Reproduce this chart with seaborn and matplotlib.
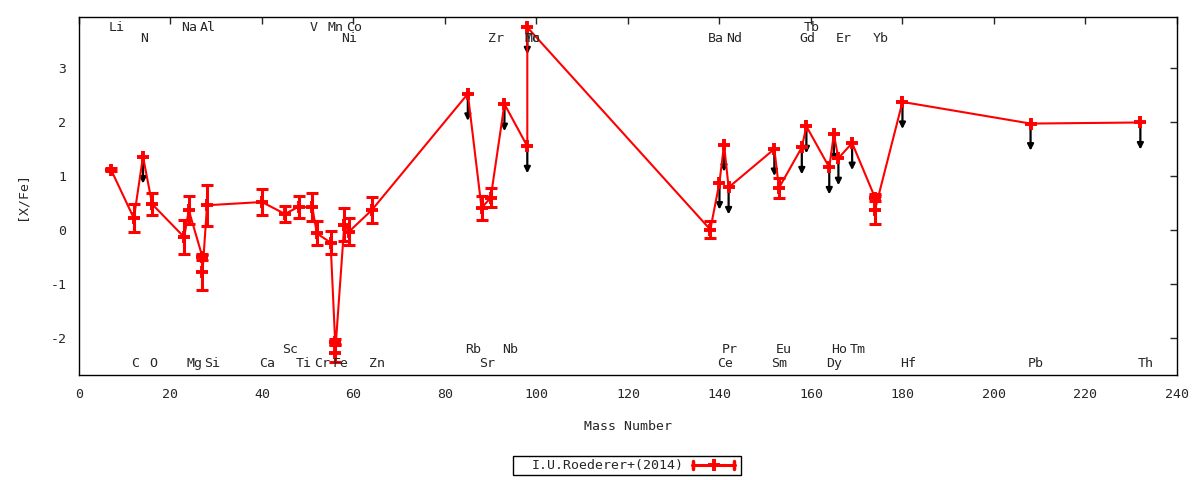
import numpy as np
import pandas as pd
import matplotlib
matplotlib.use("Agg")
import matplotlib.pyplot as plt
import seaborn as sns
from matplotlib.lines import Line2D
from matplotlib.patches import Rectangle

# abundance data (mass number of main isotope)
elements = ["Li", "C", "N", "O", "Na", "Mg", "Al", "Al", "Si", "Ca", "Sc", "Ti", "V",
            "Cr", "Mn", "Fe", "Fe", "Ni", "Co", "Zn", "Rb", "Sr", "Zr", "Nb", "Mo",
            "Tc", "Ba", "Ce", "Pr", "Nd", "Sm", "Eu", "Gd", "Tb", "Dy", "Ho", "Er",
            "Tm", "Yb", "Yb", "Hf", "Pb", "Th"]
mass = [7, 12, 14, 16, 23, 24, 27, 27, 28, 40, 45, 48, 51,
        52, 55, 56, 56, 58, 59, 64, 85, 88, 90, 93, 98,
        98, 138, 140, 141, 142, 152, 153, 158, 159, 164, 165, 166,
        169, 174, 174, 180, 208, 232]
x_fe = [1.12, 0.22, 1.36, 0.48, -0.13, 0.37, -0.50, -0.78, 0.46, 0.52, 0.30, 0.43, 0.42,
        -0.06, -0.23, -2.07, -2.27, 0.10, -0.03, 0.37, 2.52, 0.41, 0.60, 2.33, 1.55,
        3.75, 0.01, 0.88, 1.58, 0.79, 1.50, 0.78, 1.53, 1.92, 1.16, 1.77, 1.33,
        1.61, 0.60, 0.38, 2.37, 1.97, 1.99]
x_fe_err = [0.02, 0.26, 0.0, 0.20, 0.32, 0.26, 0.06, 0.32, 0.38, 0.24, 0.15, 0.21, 0.26,
            0.22, 0.22, 0.05, 0.17, 0.31, 0.25, 0.24, 0.0, 0.23, 0.18, 0.0, 0.0,
            0.0, 0.15, 0.0, 0.0, 0.0, 0.0, 0.18, 0.0, 0.0, 0.0, 0.0, 0.0,
            0.0, 0.06, 0.26, 0.0, 0.0, 0.0]
upper_limit = [0, 0, 1, 0, 0, 0, 0, 0, 0, 0, 0, 0, 0,
               0, 0, 0, 0, 0, 0, 0, 1, 0, 0, 1, 1,
               1, 0, 1, 1, 1, 1, 0, 1, 1, 1, 1, 1,
               1, 0, 0, 1, 1, 1]

# element name labels along top and bottom
label_names = ["Li", "Na", "Al", "V", "Mn", "Co", "Tb",
               "N", "Ni", "Zr", "Mo", "Tc", "Ba", "Nd", "Gd", "Er", "Yb",
               "Sc", "Rb", "Nb", "Pr", "Eu", "Ho", "Tm",
               "C", "O", "Mg", "Si", "Ca", "Ti", "Cr", "Fe", "Zn", "Sr", "Ce", "Sm",
               "Dy", "Hf", "Pb", "Th"]
label_mass = [7, 23, 27, 51, 55, 59, 159,
              14, 58, 90, 98, 98, 138, 142, 158, 166, 174,
              45, 85, 93, 141, 153, 165, 169,
              12, 16, 24, 28, 40, 48, 52, 56, 64, 88, 140, 152,
              164, 180, 208, 232]
label_row = [0] * 7 + [1] * 10 + [2] * 7 + [3] * 16
row_y = [3.74, 3.55, -2.21, -2.47]

series_label = "I.U.Roederer+(2014)"

df = pd.DataFrame({"element": elements, "mass": mass, "x_fe": x_fe,
                   "err": x_fe_err, "ul": upper_limit})

sns.set_style("white")
plt.rcParams["font.family"] = ["DejaVu Sans Mono", "DejaVu Sans"]
plt.rcParams["font.size"] = 9.5
plt.rcParams["axes.unicode_minus"] = False

fig = plt.figure(figsize=(12, 4.8), dpi=100)
ax = fig.add_axes([0.0658, 0.2185, 0.915, 0.7461])

# upper limit arrows
for _, r in df[df.ul == 1].iterrows():
    ax.annotate("", xy=(r.mass, r.x_fe - 0.5), xytext=(r.mass, r.x_fe),
                arrowprops=dict(arrowstyle="-|>", color="black", lw=1.6,
                                mutation_scale=9, shrinkA=0, shrinkB=0),
                zorder=2)

sns.lineplot(data=df, x="mass", y="x_fe", sort=False, estimator=None,
             color="red", lw=1.5, marker="+", markersize=9, markeredgewidth=2.8,
             markeredgecolor="red", ax=ax, zorder=3)
bars = df[df.err > 0]
ax.errorbar(bars["mass"], bars["x_fe"], yerr=bars["err"], fmt="none",
            ecolor="red", elinewidth=2.2, capsize=4, capthick=2.2, zorder=3)

for name, m, row in zip(label_names, label_mass, label_row):
    ax.text(m - 0.6, row_y[row], name, ha="left", va="center", fontsize=9.5)

ax.set_xlim(0, 240)
ax.set_ylim(-2.68, 3.94)
ax.set_xticks(np.arange(0, 241, 20))
ax.set_yticks(np.arange(-2, 4, 1))
ax.tick_params(direction="in", length=5, width=1, top=True, right=True,
               labelsize=9.5, pad=9)
for s in ax.spines.values():
    s.set_color("black")
    s.set_linewidth(1)
ax.set_xlabel("Mass Number", fontsize=9.5, labelpad=14)
ax.set_ylabel("[X/Fe]", fontsize=9.5, labelpad=16)

# gnuplot-style key below the plot
fig.patches.append(Rectangle((0.4275, 0.0104), 0.19, 0.0396, transform=fig.transFigure,
                             fill=False, edgecolor="black", lw=1))
fig.text(0.570, 0.031, series_label, ha="right", va="center", fontsize=9.5)
ly = 0.031
fig.lines.append(Line2D([0.5767, 0.6125], [ly, ly], transform=fig.transFigure,
                        color="red", lw=2.2))
for lx in (0.5775, 0.6117):
    fig.lines.append(Line2D([lx, lx], [ly - 0.009, ly + 0.009], transform=fig.transFigure,
                            color="red", lw=2.5))
fig.lines.append(Line2D([0.5946], [ly], transform=fig.transFigure, color="red",
                        marker="+", markersize=9, markeredgewidth=2.8))

fig.savefig("out.png", dpi=100)
